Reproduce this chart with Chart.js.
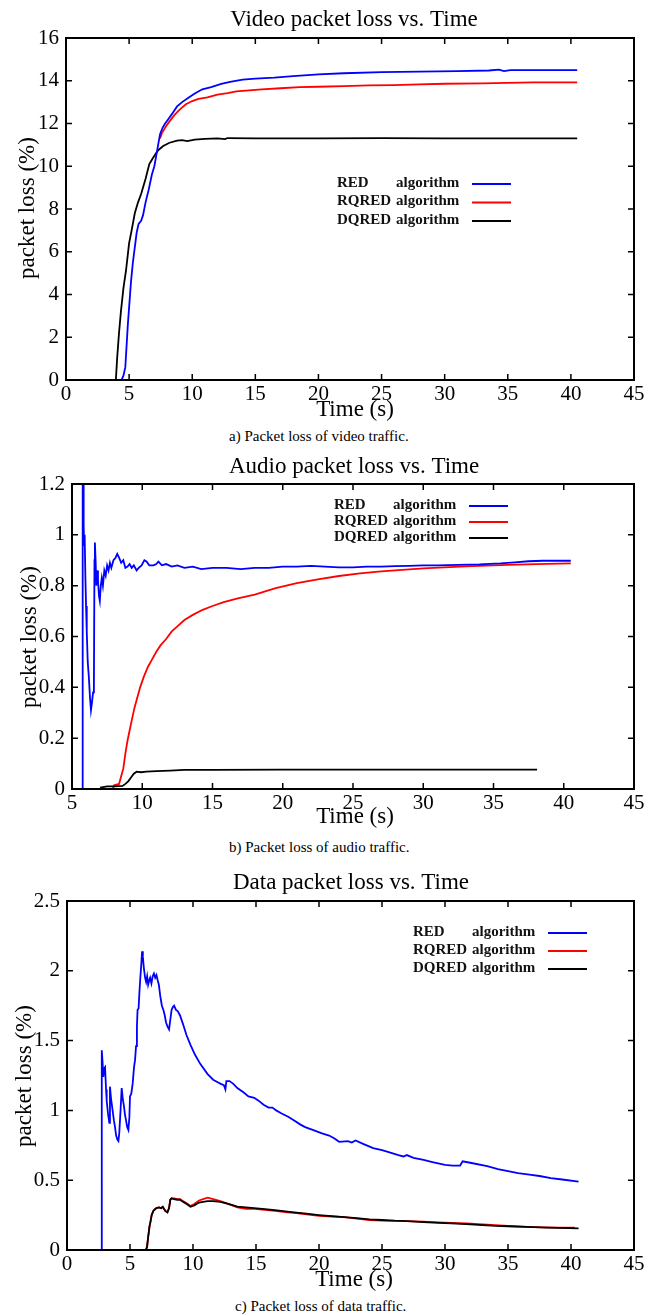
<!DOCTYPE html>
<html>
<head>
<meta charset="utf-8">
<script src="https://cdn.jsdelivr.net/npm/chart.js@4.4.0/dist/chart.umd.min.js"></script>
<style>
  body { margin: 0; background: #fff; }
  #page { position: relative; width: 661px; height: 1316px; overflow: hidden; }
  canvas { position: absolute; left: 0; }
  .cap { position: absolute; font: 15px "Liberation Serif", "Times New Roman", serif; color: #000; white-space: nowrap; }
</style>
</head>
<body>
<div id="page">
  <canvas id="video" width="661" height="425" style="top:0px"></canvas>
  <div class="cap" style="left:229px; top:428px">a) Packet loss of video traffic.</div>
  <canvas id="audio" width="661" height="390" style="top:440px"></canvas>
  <div class="cap" style="left:229px; top:839px">b) Packet loss of audio traffic.</div>
  <canvas id="data" width="661" height="430" style="top:862px"></canvas>
  <div class="cap" style="left:235px; top:1298px">c) Packet loss of data traffic.</div>
</div>
<script>
// series names, same order in all three plots
const algNames = ['RED', 'RQRED', 'DQRED'];
const algColors = ['#0000ff', '#ff0000', '#000000'];

// video traffic, [time s, loss %]
const videoRed = [[4.4,0],[4.55,0.2],[4.7,0.6],[4.8,1.6],[4.9,2.6],[5.0,3.4],[5.15,4.6],[5.3,5.5],[5.45,6.2],[5.6,6.9],[5.75,7.3],[5.95,7.45],[6.1,7.7],[6.3,8.3],[6.55,8.9],[6.8,9.6],[7.0,10.0],[7.15,10.5],[7.3,11.0],[7.45,11.5],[7.65,11.8],[7.85,12.0],[8.1,12.2],[8.4,12.45],[8.8,12.8],[9.2,13.0],[9.7,13.2],[10.2,13.4],[10.8,13.6],[11.5,13.7],[12.3,13.85],[13.0,13.95],[14.0,14.05],[15.0,14.1],[16.5,14.15],[18.0,14.22],[20.0,14.3],[22.0,14.35],[25.0,14.4],[28.0,14.43],[31.0,14.45],[33.5,14.48],[34.3,14.52],[34.7,14.45],[35.2,14.5],[37.0,14.5],[40.5,14.5]];
const videoRqred = [[7.45,11.3],[7.6,11.55],[7.9,11.85],[8.2,12.1],[8.6,12.4],[9.0,12.65],[9.5,12.9],[10.0,13.05],[10.5,13.15],[11.2,13.22],[12.0,13.35],[12.8,13.42],[13.5,13.5],[14.5,13.55],[15.5,13.6],[17.0,13.65],[18.5,13.7],[20.0,13.72],[22.0,13.75],[24.0,13.78],[26.0,13.8],[28.0,13.83],[30.0,13.86],[33.0,13.88],[35.0,13.9],[37.0,13.92],[40.5,13.92]];
const videoDqred = [[3.95,0],[4.05,1.0],[4.2,2.2],[4.35,3.2],[4.55,4.3],[4.75,5.1],[5.0,6.4],[5.2,7.0],[5.45,7.8],[5.7,8.3],[5.95,8.7],[6.3,9.4],[6.6,10.1],[6.9,10.4],[7.3,10.75],[7.7,10.95],[8.2,11.1],[8.8,11.2],[9.2,11.22],[9.6,11.18],[10.2,11.25],[11.0,11.28],[12.0,11.3],[12.6,11.27],[12.8,11.32],[15,11.3],[20,11.3],[25,11.32],[30,11.3],[35,11.3],[40.5,11.3]];

// audio traffic
const audioRed = [[5.75,0],[5.76,1.3],[5.8,1.25],[5.83,1.04],[5.86,0.96],[5.9,1.0],[5.95,0.84],[6.0,0.72],[6.05,0.62],[6.12,0.5],[6.2,0.44],[6.28,0.36],[6.35,0.31],[6.42,0.34],[6.5,0.38],[6.56,0.42],[6.6,0.9],[6.63,0.97],[6.68,0.9],[6.73,0.8],[6.78,0.86],[6.85,0.82],[6.92,0.76],[6.98,0.74],[7.05,0.8],[7.12,0.83],[7.2,0.8],[7.3,0.86],[7.4,0.84],[7.5,0.88],[7.6,0.86],[7.7,0.89],[7.8,0.87],[7.95,0.9],[8.1,0.91],[8.22,0.925],[8.35,0.91],[8.5,0.89],[8.65,0.9],[8.8,0.87],[8.95,0.875],[9.1,0.885],[9.25,0.87],[9.4,0.88],[9.6,0.86],[9.75,0.87],[9.95,0.88],[10.15,0.9],[10.3,0.895],[10.5,0.88],[10.8,0.88],[11.0,0.885],[11.15,0.895],[11.4,0.88],[11.7,0.885],[12.1,0.875],[12.5,0.88],[13.0,0.87],[13.6,0.875],[14.2,0.865],[15.0,0.87],[16.0,0.87],[17.0,0.865],[18.0,0.87],[19.0,0.87],[20.0,0.875],[21.0,0.875],[22.0,0.878],[23.0,0.875],[24.0,0.872],[25.0,0.872],[26.0,0.875],[27.0,0.875],[28.0,0.877],[29.0,0.878],[30.0,0.88],[31.0,0.88],[32.5,0.882],[34.0,0.884],[35.5,0.888],[36.5,0.892],[37.5,0.896],[38.5,0.898],[40.5,0.898]];
const audioRqred = [[7.9,0],[8.0,0.015],[8.35,0.02],[8.5,0.05],[8.65,0.08],[8.8,0.14],[8.95,0.19],[9.1,0.23],[9.25,0.27],[9.45,0.32],[9.6,0.35],[9.85,0.4],[10.1,0.44],[10.4,0.48],[10.7,0.51],[11.0,0.54],[11.3,0.565],[11.7,0.59],[12.1,0.62],[12.5,0.64],[13.0,0.665],[13.6,0.685],[14.3,0.705],[15.0,0.72],[15.8,0.735],[16.8,0.75],[18.0,0.765],[19.5,0.79],[21.0,0.81],[22.5,0.825],[24.0,0.838],[25.5,0.848],[27.0,0.856],[28.5,0.862],[30.0,0.868],[31.5,0.872],[33.0,0.876],[34.5,0.879],[36.0,0.882],[38.0,0.885],[40.5,0.888]];
const audioDqred = [[7.0,0.005],[7.5,0.01],[8.0,0.01],[8.6,0.012],[8.8,0.02],[9.0,0.03],[9.2,0.045],[9.4,0.06],[9.6,0.068],[9.9,0.066],[10.3,0.068],[11.0,0.07],[12.0,0.072],[13.0,0.075],[15.0,0.075],[20.0,0.076],[25.0,0.076],[30.0,0.076],[35.0,0.076],[38.1,0.076]];

// data traffic
const dataRed = [[2.75,0],[2.76,1.43],[2.82,1.35],[2.88,1.24],[2.95,1.3],[3.02,1.31],[3.1,1.15],[3.15,1.07],[3.25,0.98],[3.36,0.91],[3.41,1.17],[3.5,1.08],[3.62,1.0],[3.72,0.93],[3.81,0.88],[3.9,0.82],[4.0,0.79],[4.08,0.78],[4.15,0.84],[4.25,1.0],[4.34,1.16],[4.43,1.08],[4.52,1.03],[4.6,0.97],[4.68,0.93],[4.78,0.88],[4.87,0.86],[4.95,0.95],[5.0,1.1],[5.1,1.12],[5.21,1.19],[5.32,1.31],[5.4,1.36],[5.48,1.46],[5.55,1.6],[5.6,1.72],[5.68,1.73],[5.75,1.85],[5.82,1.95],[5.9,2.05],[5.96,2.14],[6.02,2.1],[6.1,2.02],[6.2,1.95],[6.28,1.92],[6.36,1.96],[6.44,1.9],[6.52,1.93],[6.6,1.95],[6.7,1.91],[6.8,1.96],[6.9,1.98],[7.0,1.95],[7.1,1.97],[7.2,1.93],[7.29,1.9],[7.4,1.82],[7.53,1.75],[7.65,1.72],[7.76,1.68],[7.86,1.63],[7.98,1.6],[8.1,1.58],[8.2,1.65],[8.3,1.72],[8.4,1.74],[8.5,1.75],[8.65,1.72],[8.8,1.71],[8.97,1.68],[9.2,1.62],[9.48,1.54],[9.8,1.47],[10.15,1.4],[10.6,1.33],[11.16,1.26],[11.6,1.22],[12.0,1.2],[12.2,1.19],[12.45,1.18],[12.57,1.15],[12.65,1.21],[12.9,1.21],[13.2,1.19],[13.52,1.16],[14.0,1.13],[14.4,1.1],[14.86,1.09],[15.2,1.07],[15.6,1.04],[16.0,1.02],[16.3,1.02],[16.6,1.0],[17.0,0.98],[17.55,0.955],[18.0,0.93],[18.5,0.9],[18.9,0.88],[19.5,0.86],[20.24,0.835],[20.8,0.82],[21.2,0.8],[21.6,0.775],[22.3,0.78],[22.6,0.77],[22.9,0.785],[23.5,0.76],[24.3,0.73],[25.0,0.715],[25.6,0.7],[26.3,0.68],[26.7,0.67],[26.97,0.68],[27.5,0.66],[28.3,0.645],[29.0,0.63],[30.0,0.61],[30.6,0.605],[31.2,0.605],[31.4,0.635],[32.0,0.625],[33.35,0.6],[34.2,0.58],[35.0,0.565],[35.8,0.55],[36.7,0.54],[37.5,0.53],[38.4,0.515],[39.3,0.505],[40.6,0.49]];
const dataRqred = [[6.25,0],[6.35,0.02],[6.45,0.1],[6.55,0.17],[6.62,0.2],[6.72,0.25],[6.85,0.28],[6.96,0.29],[7.1,0.3],[7.3,0.305],[7.46,0.3],[7.6,0.31],[7.8,0.28],[7.97,0.27],[8.1,0.3],[8.2,0.36],[8.3,0.37],[8.5,0.37],[8.75,0.365],[8.97,0.365],[9.2,0.35],[9.5,0.335],[9.8,0.315],[10.1,0.33],[10.48,0.355],[10.8,0.365],[11.16,0.375],[11.6,0.365],[12.17,0.35],[12.8,0.33],[13.52,0.305],[14.2,0.295],[14.86,0.295],[15.5,0.29],[16.5,0.28],[17.5,0.27],[18.2,0.265],[19.0,0.255],[20.0,0.245],[21.0,0.24],[22.0,0.235],[23.0,0.225],[24.0,0.215],[25.0,0.21],[26.0,0.208],[27.0,0.207],[28.3,0.203],[29.5,0.198],[30.5,0.195],[31.7,0.19],[33.0,0.183],[34.0,0.178],[35.0,0.172],[36.5,0.165],[38.0,0.162],[39.0,0.16],[40.3,0.16]];
const dataDqred = [[6.25,0],[6.35,0.02],[6.45,0.1],[6.55,0.17],[6.62,0.2],[6.72,0.25],[6.85,0.28],[6.96,0.29],[7.1,0.3],[7.3,0.305],[7.46,0.3],[7.6,0.31],[7.8,0.28],[7.97,0.27],[8.1,0.3],[8.2,0.36],[8.3,0.37],[8.5,0.365],[8.75,0.36],[8.97,0.36],[9.2,0.345],[9.5,0.33],[9.8,0.31],[10.1,0.32],[10.48,0.34],[10.8,0.345],[11.16,0.35],[11.6,0.35],[12.17,0.345],[12.8,0.33],[13.52,0.31],[14.2,0.305],[14.86,0.3],[15.5,0.295],[16.5,0.285],[17.5,0.275],[18.2,0.268],[19.0,0.26],[20.0,0.25],[21.0,0.242],[22.0,0.235],[23.0,0.228],[24.0,0.22],[25.0,0.215],[26.0,0.21],[27.0,0.207],[28.3,0.2],[29.5,0.195],[30.5,0.19],[31.7,0.185],[33.0,0.178],[34.0,0.173],[35.0,0.17],[36.5,0.165],[38.0,0.16],[39.0,0.158],[40.6,0.155]];

const serif = '"Liberation Serif", "Times New Roman", serif';

// gnuplot look: box, inward ticks on all four sides, texts and key drawn by hand
const gnuFrame = {
  id: 'gnuFrame',
  afterDatasetsDraw(chart, args, o) {
    const ctx = chart.ctx, a = chart.chartArea;
    const xs = chart.scales.x, ys = chart.scales.y;
    ctx.save();
    ctx.strokeStyle = '#000';
    ctx.lineWidth = 1.5;
    ctx.beginPath();
    xs.ticks.forEach(t => {
      let p = xs.getPixelForValue(t.value);
      ctx.moveTo(p, a.bottom); ctx.lineTo(p, a.bottom - 6);
      ctx.moveTo(p, a.top); ctx.lineTo(p, a.top + 6);
    });
    ys.ticks.forEach(t => {
      let p = ys.getPixelForValue(t.value);
      ctx.moveTo(a.left, p); ctx.lineTo(a.left + 6, p);
      ctx.moveTo(a.right, p); ctx.lineTo(a.right - 6, p);
    });
    ctx.stroke();
    ctx.lineWidth = 2;
    ctx.strokeRect(a.left, a.top, a.right - a.left, a.bottom - a.top);

    ctx.fillStyle = '#000';
    ctx.textAlign = 'center';
    ctx.textBaseline = 'middle';
    ctx.font = '23px ' + serif;
    ctx.fillText(o.title, o.titleX, o.titleY);
    ctx.fillText('Time (s)', o.xTitleX, o.xTitleY);
    ctx.save();
    ctx.translate(o.yTitleX, o.yTitleY);
    ctx.rotate(-Math.PI / 2);
    ctx.fillText('packet loss (%)', 0, 0);
    ctx.restore();

    // key
    ctx.font = 'bold 15px ' + serif;
    ctx.textAlign = 'left';
    chart.data.datasets.forEach((ds, i) => {
      let y = o.keyY + i * o.keyGap;
      ctx.fillStyle = '#111';
      ctx.fillText(ds.label, o.keyX, y);
      ctx.fillText('algorithm', o.keyX + 59, y);
      ctx.strokeStyle = ds.borderColor;
      ctx.lineWidth = 2;
      ctx.beginPath();
      ctx.moveTo(o.keyX + 135, y + 1);
      ctx.lineTo(o.keyX + 174, y + 1);
      ctx.stroke();
    });
    ctx.restore();
  }
};

// gnuplot prints 1 and 2, not 1.0 and 2.0
const plainNum = v => String(parseFloat(v.toFixed(2)));

function makeChart(id, series, c) {
  let ctx = document.getElementById(id).getContext('2d');
  let tickFont = { family: serif, size: 21 };
  let datasets = series.map((pts, i) => ({
    label: algNames[i],
    data: pts.map(p => ({ x: p[0], y: p[1] })),
    borderColor: algColors[i],
    borderWidth: 1.8,
    pointRadius: 0,
    tension: 0,
    order: [0, 2, 1][i]
  }));
  return new Chart(ctx, {
    type: 'line',
    data: { datasets: datasets },
    options: {
      responsive: false,
      animation: false,
      layout: { padding: { top: c.top, right: 27, left: 0, bottom: 0 } },
      plugins: {
        legend: { display: false },
        tooltip: { enabled: false },
        gnuFrame: c.text
      },
      scales: {
        x: {
          type: 'linear', min: c.xMin, max: 45,
          ticks: { stepSize: 5, font: tickFont, color: '#000', padding: 2, maxRotation: 0, autoSkip: false, callback: plainNum },
          grid: { display: false, drawTicks: false },
          border: { display: false },
          afterFit: s => { s.height = c.xh; }
        },
        y: {
          type: 'linear', min: 0, max: c.yMax,
          ticks: { stepSize: c.yStep, font: tickFont, color: '#000', padding: 7, autoSkip: false, callback: plainNum },
          grid: { display: false, drawTicks: false },
          border: { display: false },
          afterFit: s => { s.width = c.yw; }
        }
      }
    },
    plugins: [gnuFrame]
  });
}

makeChart('video', [videoRed, videoRqred, videoDqred], {
  top: 38, xh: 45, yw: 66, xMin: 0, yMax: 16, yStep: 2,
  text: { title: 'Video packet loss vs. Time', titleX: 354, titleY: 20, xTitleX: 355, xTitleY: 410, yTitleX: 28, yTitleY: 208, keyX: 337, keyY: 183, keyGap: 18.5 }
});
makeChart('audio', [audioRed, audioRqred, audioDqred], {
  top: 44, xh: 41, yw: 72, xMin: 5, yMax: 1.2, yStep: 0.2,
  text: { title: 'Audio packet loss vs. Time', titleX: 354, titleY: 27, xTitleX: 355, xTitleY: 377, yTitleX: 30, yTitleY: 197, keyX: 334, keyY: 65, keyGap: 16 }
});
makeChart('data', [dataRed, dataRqred, dataDqred], {
  top: 39, xh: 42, yw: 67, xMin: 0, yMax: 2.5, yStep: 0.5,
  text: { title: 'Data packet loss vs. Time', titleX: 351, titleY: 21, xTitleX: 354, xTitleY: 418, yTitleX: 25, yTitleY: 214, keyX: 413, keyY: 70, keyGap: 18 }
});
</script>
</body>
</html>
